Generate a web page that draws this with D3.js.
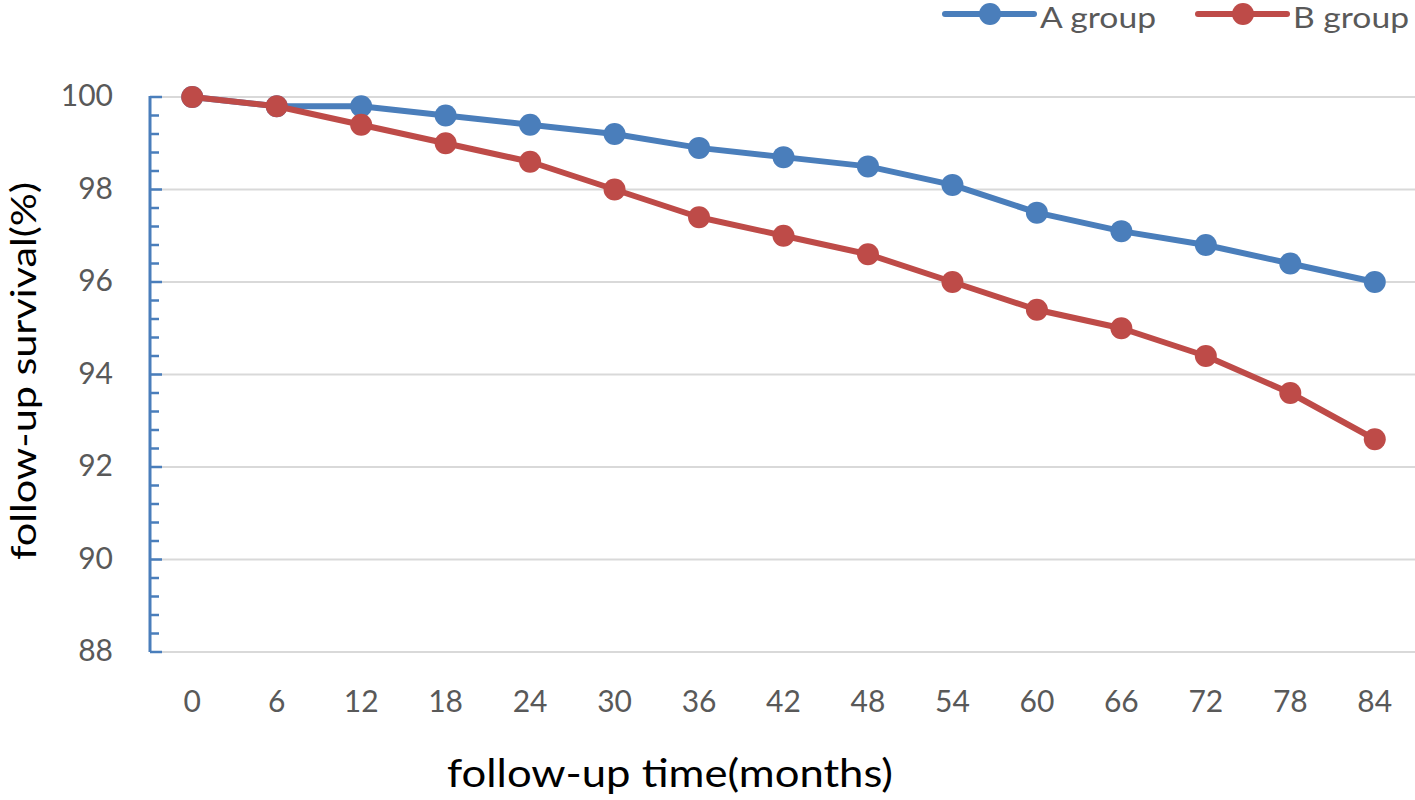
<!DOCTYPE html>
<html><head><meta charset="utf-8">
<script src="https://cdn.jsdelivr.net/npm/d3@7"></script>
<style>body{margin:0;background:#fff}svg{display:block}</style>
</head><body>
<script>
const months = [0,6,12,18,24,30,36,42,48,54,60,66,72,78,84];
const groupA = [100,99.8,99.8,99.6,99.4,99.2,98.9,98.7,98.5,98.1,97.5,97.1,96.8,96.4,96.0];
const groupB = [100,99.8,99.4,99.0,98.6,98.0,97.4,97.0,96.6,96.0,95.4,95.0,94.4,93.6,92.6];
const yTicks = [88,90,92,94,96,98,100];
const seriesNames = ["A group","B group"];
const colors = ["#4A7EBB","#BE4B48"];

const W=1415,H=800;
const svg=d3.select("body").append("svg").attr("width",W).attr("height",H);
const font="Lato, 'Open Sans', sans-serif";
const x=d3.scalePoint().domain(months).range([150,1417]).padding(0.5);
const y=d3.scaleLinear().domain([88,100]).range([652,97]);

// gridlines
svg.append("g").selectAll("line").data(yTicks).join("line")
  .attr("x1",150).attr("x2",1417).attr("y1",d=>y(d)).attr("y2",d=>y(d))
  .attr("stroke","#D9D9D9").attr("stroke-width",2);

// y axis
const minor=d3.range(88,100.001,0.4);
svg.append("g").selectAll("line").data(minor).join("line")
  .attr("x1",150).attr("x2",d=>Math.abs(Math.round(d)-d)<1e-6&&Math.round(d)%2===0?162:159)
  .attr("y1",d=>y(d)).attr("y2",d=>y(d))
  .attr("stroke",colors[0]).attr("stroke-width",2.5);
svg.append("line").attr("x1",150).attr("x2",150).attr("y1",y(100)-1).attr("y2",y(88))
  .attr("stroke",colors[0]).attr("stroke-width",3);
svg.append("g").selectAll("text").data(yTicks).join("text")
  .attr("x",113).attr("y",d=>y(d)+9).attr("text-anchor","end")
  .attr("font-family",font).attr("font-size",30).attr("fill","#595959").text(d=>d);

// x labels
svg.append("g").selectAll("text").data(months).join("text")
  .attr("x",d=>x(d)).attr("y",712).attr("text-anchor","middle")
  .attr("font-family",font).attr("font-size",30).attr("fill","#595959").text(d=>d);

// titles
svg.append("text").attr("x",447).attr("y",787)
  .attr("textLength",446).attr("lengthAdjust","spacingAndGlyphs")
  .attr("font-family",font).attr("font-size",38).attr("fill","#000").text("follow-up time(months)");
svg.append("text").attr("transform","translate(36,560) rotate(-90)")
  .attr("textLength",378).attr("lengthAdjust","spacingAndGlyphs")
  .attr("font-family",font).attr("font-size",35).attr("fill","#000").text("follow-up survival(%)");

// series
const line=d3.line().x((d,i)=>x(months[i])).y(d=>y(d));
[groupA,groupB].forEach((s,k)=>{
  const g=svg.append("g");
  g.append("path").datum(s).attr("d",line).attr("fill","none")
    .attr("stroke",colors[k]).attr("stroke-width",6).attr("stroke-linejoin","round");
  g.selectAll("circle").data(s).join("circle")
    .attr("cx",(d,i)=>x(months[i])).attr("cy",d=>y(d)).attr("r",11).attr("fill",colors[k]);
});

// legend
const lx=[945,1198];
seriesNames.forEach((n,k)=>{
  const g=svg.append("g");
  g.append("line").attr("x1",lx[k]).attr("x2",lx[k]+89).attr("y1",14).attr("y2",14)
    .attr("stroke",colors[k]).attr("stroke-width",6).attr("stroke-linecap","round");
  g.append("circle").attr("cx",lx[k]+45).attr("cy",14).attr("r",11).attr("fill",colors[k]);
  g.append("text").attr("x",lx[k]+95).attr("y",28)
    .attr("textLength",116).attr("lengthAdjust","spacingAndGlyphs")
    .attr("font-family",font).attr("font-size",28)
    .attr("fill","#595959").text(n);
});
</script>
</body></html>
